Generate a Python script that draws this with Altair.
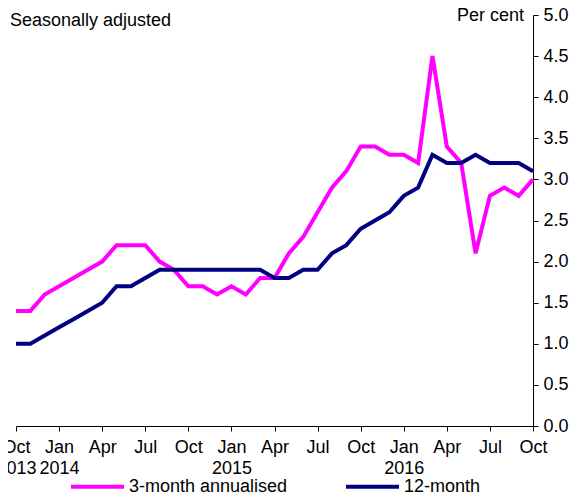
import json
import altair as alt
import pandas as pd

# Monthly observations, Oct 2013 .. Oct 2016
month_index = list(range(37))
three_month = [1.4, 1.4, 1.6, 1.7, 1.8, 1.9, 2.0, 2.2, 2.2, 2.2, 2.0, 1.9,
               1.7, 1.7, 1.6, 1.7, 1.6, 1.8, 1.8, 2.1, 2.3, 2.6, 2.9, 3.1,
               3.4, 3.4, 3.3, 3.3, 3.2, 4.5, 3.4, 3.2, 2.1, 2.8, 2.9, 2.8,
               3.0]
twelve_month = [1.0, 1.0, 1.1, 1.2, 1.3, 1.4, 1.5, 1.7, 1.7, 1.8, 1.9, 1.9,
                1.9, 1.9, 1.9, 1.9, 1.9, 1.9, 1.8, 1.8, 1.9, 1.9, 2.1, 2.2,
                2.4, 2.5, 2.6, 2.8, 2.9, 3.3, 3.2, 3.2, 3.3, 3.2, 3.2, 3.2,
                3.1]
series_names = ["3-month annualised", "12-month"]
series_colors = ["#FF00FF", "#000080"]
tick_positions = list(range(0, 37, 3))
tick_labels = [["Oct", "2013"], ["Jan", "2014"], ["Apr"], ["Jul"], ["Oct"],
               ["Jan", "2015"], ["Apr"], ["Jul"], ["Oct"], ["Jan", "2016"],
               ["Apr"], ["Jul"], ["Oct"]]
y_ticks = [0, 0.5, 1, 1.5, 2, 2.5, 3, 3.5, 4, 4.5, 5]

df = pd.DataFrame({
    "i": month_index * 2,
    "v": three_month + twelve_month,
    "s": [series_names[0]] * 37 + [series_names[1]] * 37,
})

FONT = "Liberation Sans"
W, H = 517, 411
TOP = 7

lines = alt.Chart(df).mark_line(strokeWidth=4, strokeJoin="miter").encode(
    x=alt.X("i:Q", scale=alt.Scale(domain=[0, 36], nice=False, zero=False),
            axis=alt.Axis(values=tick_positions, title=None, grid=False,
                          tickSize=5, labelPadding=7, labelFontSize=18,
                          labelLineHeight=21, labelFlush=False,
                          labelOverlap=False, labelColor="black",
                          domainColor="black", tickColor="black",
                          labelExpr=json.dumps(tick_labels) + "[round(datum.value/3)]")),
    y=alt.Y("v:Q", scale=alt.Scale(domain=[0, 5], nice=False),
            axis=alt.Axis(orient="right", values=y_ticks, format=".1f",
                          title=None, grid=False, tickSize=5, labelPadding=5,
                          labelFontSize=18, labelFlush=False,
                          labelOverlap=False, labelColor="black",
                          domainColor="black", tickColor="black")),
    color=alt.Color("s:N", sort=series_names,
                    scale=alt.Scale(domain=series_names, range=series_colors),
                    legend=alt.Legend(orient="none", legendX=53, legendY=443,
                                      direction="horizontal", title=None,
                                      symbolType="stroke", symbolSize=2809,
                                      symbolStrokeWidth=4, labelFontSize=18,
                                      labelOffset=3, columnPadding=50,
                                      labelLimit=400, labelColor="black",
                                      padding=0)),
)

anno = pd.DataFrame({"t": ["Seasonally adjusted"]})
sa = alt.Chart(anno).mark_text(align="left", baseline="alphabetic",
                               fontSize=18, font=FONT, color="black").encode(
    x=alt.value(-6), y=alt.value(11), text="t:N")
anno2 = pd.DataFrame({"t": ["Per cent"]})
pc = alt.Chart(anno2).mark_text(align="right", baseline="alphabetic",
                                fontSize=18, font=FONT, color="black").encode(
    x=alt.value(508), y=alt.value(6), text="t:N")

chart = alt.layer(lines, sa, pc).properties(
    width=W, height=H,
    autosize=alt.AutoSizeParams(type="none"),
    padding={"left": 8, "top": TOP, "right": 561 - 8 - W, "bottom": 486 - TOP - H},
).configure(font=FONT).configure_view(stroke=None)

chart.save("out.html", embed_options={"renderer": "svg", "actions": False})
